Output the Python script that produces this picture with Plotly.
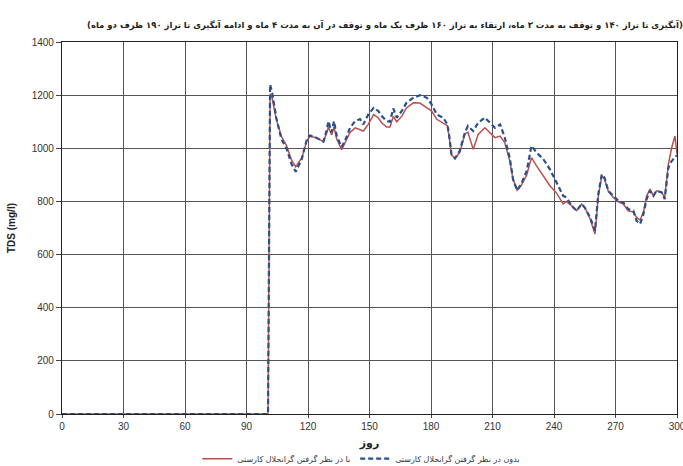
import plotly.graph_objects as go

days = [0, 100.5, 101.5, 102.5, 104.5, 107, 109.5, 112, 114, 117, 119.5, 121, 124, 127.5, 129, 130,
        131.5, 132.7, 134, 136.4, 138, 140.5, 143, 145.4, 147, 149.4, 152, 154.3, 156, 158.4, 160,
        161.6, 163.3, 165.7, 168, 171.4, 174.6, 178, 180.3, 182.8, 186, 188, 189, 190, 191.7, 194,
        196.6, 198, 200.6, 203, 206.3, 208.8, 211.2, 213.7, 216, 218.5, 220, 222, 224, 226.7, 229,
        231.5, 234.8, 238, 241, 244.5, 246, 248.6, 251, 253.5, 255, 257.6, 260, 261.6, 263.3, 264.6,
        266.5, 269, 271.4, 273.8, 276.2, 278.7, 280.3, 282, 283.6, 285.2, 286.8, 288.5, 290, 292.5,
        294, 295.8, 297.4, 299, 300]

tds_without = [0, 0, 1240, 1210, 1115, 1035, 1000, 940, 912, 960, 1035, 1048, 1040, 1025, 1065, 1102,
               1060, 1102, 1046, 1005, 1027, 1077, 1102, 1110, 1090, 1127, 1152, 1140, 1121, 1102, 1100,
               1150, 1115, 1140, 1171, 1190, 1200, 1190, 1165, 1127, 1115, 1090, 1040, 977, 962, 990,
               1060, 1084, 1065, 1096, 1115, 1096, 1077, 1090, 1040, 960, 884, 842, 865, 915, 1009,
               984, 959, 921, 877, 821, 815, 784, 765, 790, 777, 740, 690, 827, 902, 890,
               840, 821, 802, 796, 771, 765, 727, 715, 752, 809, 840, 821, 840, 834,
               809, 927, 952, 965, 975]

tds_with = [0, 0, 1205, 1190, 1110, 1045, 1010, 955, 930, 965, 1030, 1045, 1040, 1025, 1055, 1080,
            1050, 1080, 1035, 995, 1020, 1060, 1077, 1070, 1065, 1090, 1127, 1115, 1095, 1080, 1080,
            1120, 1100, 1120, 1152, 1171, 1170, 1152, 1140, 1109, 1096, 1085, 1035, 975, 962, 984,
            1055, 1060, 996, 1052, 1077, 1059, 1040, 1046, 1021, 950, 884, 842, 860, 900, 965,
            934, 896, 859, 834, 791, 800, 784, 765, 790, 777, 735, 677, 820, 895, 885,
            838, 815, 798, 790, 765, 760, 740, 730, 760, 820, 846, 821, 840, 834,
            815, 940, 1002, 1046, 979]

name_with = "با در نظر گرفتن گرانحلال کارستی"
name_without = "بدون در نظر گرفتن گرانحلال کارستی"
title_text = "(آبگیری تا تراز ۱۴۰ و توقف به مدت ۳ ماه، ارتقاء به تراز ۱۶۰ ظرف یک ماه و توقف در آن به مدت ۴ ماه و ادامه آبگیری تا تراز ۱۹۰ ظرف دو ماه)"

fig = go.Figure()
fig.add_trace(go.Scatter(x=days, y=tds_with, mode="lines", name=name_with,
                         line=dict(color="#b9504e", width=1.5)))
fig.add_trace(go.Scatter(x=days, y=tds_without, mode="lines", name=name_without,
                         line=dict(color="#2a4f8f", width=2.2, dash="5px,3px")))

fig.update_layout(
    width=683, height=466,
    margin=dict(l=62, r=6, t=42, b=52, autoexpand=False),
    paper_bgcolor="white", plot_bgcolor="white",
    font=dict(family="Liberation Sans, Arial, sans-serif", size=10, color="#333"),
    showlegend=True,
    legend=dict(orientation="h", x=0.22, y=-0.12, xanchor="left", yanchor="middle",
                font=dict(family="DejaVu Sans", size=8, color="#333"),
                traceorder="normal", itemwidth=30, bgcolor="rgba(0,0,0,0)"),
    xaxis=dict(range=[0, 300], tickvals=[0, 30, 60, 90, 120, 150, 180, 210, 240, 270, 300],
               showgrid=True, gridcolor="#555", gridwidth=1,
               showline=True, linecolor="#222", linewidth=1.2, mirror=True,
               ticks="outside", ticklen=3, tickcolor="#444", zeroline=False,
               ticklabeloverflow="allow", automargin=False,
               title=dict(text="<b>روز</b>", font=dict(family="DejaVu Sans", size=11, color="#222"),
                          standoff=8)),
    yaxis=dict(range=[0, 1400], tickvals=[0, 200, 400, 600, 800, 1000, 1200, 1400],
               showgrid=True, gridcolor="#555", gridwidth=1,
               showline=True, linecolor="#222", linewidth=1.2, mirror=True,
               ticks="outside", ticklen=5, tickcolor="#444", zeroline=False, automargin=False,
               title=dict(text="<b>TDS (mg/l)</b>", font=dict(size=10, color="#222"), standoff=14)),
)

fig.add_annotation(text="<b>" + title_text + "</b>", xref="paper", yref="paper",
                   x=0.525, y=1.0, yshift=25, showarrow=False,
                   font=dict(family="DejaVu Sans", size=8.5, color="#222"))

fig.write_html("out.html", config={"displayModeBar": False},
               post_script="document.body.style.margin='0px';document.body.style.overflow='hidden';")
